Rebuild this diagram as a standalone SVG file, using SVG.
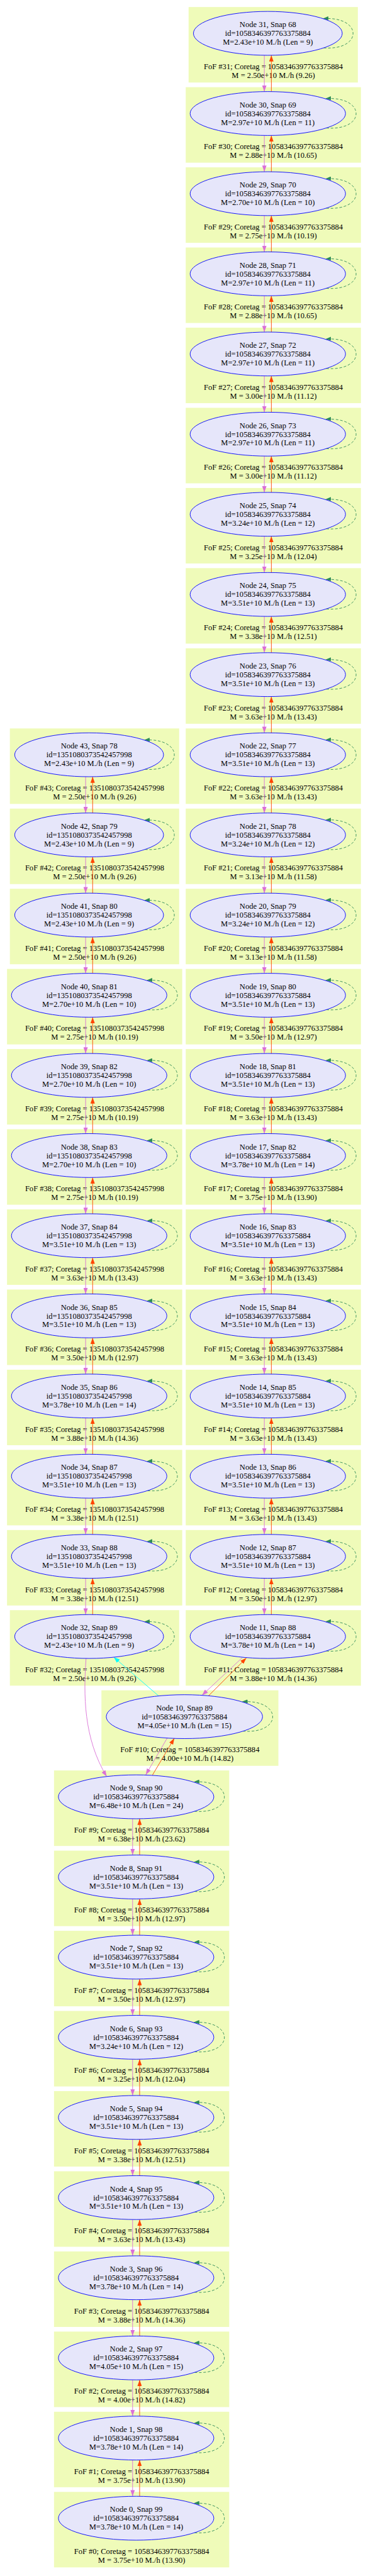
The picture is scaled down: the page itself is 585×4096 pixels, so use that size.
<svg xmlns="http://www.w3.org/2000/svg" width="585" height="4096" viewBox="0 0 585 4096">
<style>
.cl rect{fill:#effbb9}
text{font-family:"Liberation Serif","Times New Roman",serif;font-size:18px;text-anchor:middle;fill:#000}
.nd ellipse{fill:#e6e6fa;stroke:#0000ff;stroke-width:1.3}
.e{fill:none;stroke-width:1.3}
.v{stroke:#da70d6}
.o{stroke:#ff4500}
.c{stroke:#00ffff}
.s{stroke:#2e8b57;stroke-dasharray:6,4}
</style>
<defs>
<marker id="mv" viewBox="0 0 14 10" refX="14" refY="5" markerWidth="14" markerHeight="10" markerUnits="userSpaceOnUse" orient="auto"><path d="M0,0L14,5L0,10z" fill="#da70d6"/></marker>
<marker id="mo" viewBox="0 0 14 10" refX="14" refY="5" markerWidth="14" markerHeight="10" markerUnits="userSpaceOnUse" orient="auto"><path d="M0,0L14,5L0,10z" fill="#ff4500"/></marker>
<marker id="mc" viewBox="0 0 14 10" refX="14" refY="5" markerWidth="14" markerHeight="10" markerUnits="userSpaceOnUse" orient="auto"><path d="M0,0L14,5L0,10z" fill="#00ffff"/></marker>
<marker id="ms" viewBox="0 0 13 9" refX="13" refY="4.5" markerWidth="13" markerHeight="9" markerUnits="userSpaceOnUse" orient="auto"><path d="M0,0L13,4.5L0,9z" fill="#2e8b57"/></marker>
<g id="vp"><path class="e v" d="M-8,50V132.6" marker-end="url(#mv)"/><path class="e o" d="M8,132.6V50" marker-end="url(#mo)"/></g>
<path id="l2" class="e s" d="M133,33C224,40 224,-40 131,-34" marker-end="url(#ms)"/>
<path id="l1" class="e s" d="M127,33C216.7,40 216.7,-40 125,-33.5" marker-end="url(#ms)"/>
</defs>
<g transform="scale(0.698)">
<g id="clusters" class="cl">
<g id="cluster31" transform="translate(610,76)"><rect x="-180.5" y="-60" width="385.5" height="172"/><text x="12.5" y="81.5">FoF #31; Coretag = 1058346397763375884</text><text x="12.5" y="101.5">M = 2.50e+10 M./h (9.26)</text></g>
<g id="cluster30" transform="translate(610,258.6)"><rect x="-187" y="-60" width="399" height="172"/><text x="12.5" y="81.5">FoF #30; Coretag = 1058346397763375884</text><text x="12.5" y="101.5">M = 2.88e+10 M./h (10.65)</text></g>
<g id="cluster29" transform="translate(610,441.2)"><rect x="-187" y="-60" width="399" height="172"/><text x="12.5" y="81.5">FoF #29; Coretag = 1058346397763375884</text><text x="12.5" y="101.5">M = 2.75e+10 M./h (10.19)</text></g>
<g id="cluster28" transform="translate(610,623.8)"><rect x="-187" y="-60" width="399" height="172"/><text x="12.5" y="81.5">FoF #28; Coretag = 1058346397763375884</text><text x="12.5" y="101.5">M = 2.88e+10 M./h (10.65)</text></g>
<g id="cluster27" transform="translate(610,806.4)"><rect x="-187" y="-60" width="399" height="172"/><text x="12.5" y="81.5">FoF #27; Coretag = 1058346397763375884</text><text x="12.5" y="101.5">M = 3.00e+10 M./h (11.12)</text></g>
<g id="cluster26" transform="translate(610,989)"><rect x="-187" y="-60" width="399" height="172"/><text x="12.5" y="81.5">FoF #26; Coretag = 1058346397763375884</text><text x="12.5" y="101.5">M = 3.00e+10 M./h (11.12)</text></g>
<g id="cluster25" transform="translate(610,1171.6)"><rect x="-187" y="-60" width="399" height="172"/><text x="12.5" y="81.5">FoF #25; Coretag = 1058346397763375884</text><text x="12.5" y="101.5">M = 3.25e+10 M./h (12.04)</text></g>
<g id="cluster24" transform="translate(610,1354.2)"><rect x="-187" y="-60" width="399" height="172"/><text x="12.5" y="81.5">FoF #24; Coretag = 1058346397763375884</text><text x="12.5" y="101.5">M = 3.38e+10 M./h (12.51)</text></g>
<g id="cluster23" transform="translate(610,1536.8)"><rect x="-187" y="-60" width="399" height="172"/><text x="12.5" y="81.5">FoF #23; Coretag = 1058346397763375884</text><text x="12.5" y="101.5">M = 3.63e+10 M./h (13.43)</text></g>
<g id="cluster22" transform="translate(610,1719.4)"><rect x="-187" y="-60" width="399" height="172"/><text x="12.5" y="81.5">FoF #22; Coretag = 1058346397763375884</text><text x="12.5" y="101.5">M = 3.63e+10 M./h (13.43)</text></g>
<g id="cluster21" transform="translate(610,1902)"><rect x="-187" y="-60" width="399" height="172"/><text x="12.5" y="81.5">FoF #21; Coretag = 1058346397763375884</text><text x="12.5" y="101.5">M = 3.13e+10 M./h (11.58)</text></g>
<g id="cluster20" transform="translate(610,2084.6)"><rect x="-187" y="-60" width="399" height="172"/><text x="12.5" y="81.5">FoF #20; Coretag = 1058346397763375884</text><text x="12.5" y="101.5">M = 3.13e+10 M./h (11.58)</text></g>
<g id="cluster19" transform="translate(610,2267.2)"><rect x="-187" y="-60" width="399" height="172"/><text x="12.5" y="81.5">FoF #19; Coretag = 1058346397763375884</text><text x="12.5" y="101.5">M = 3.50e+10 M./h (12.97)</text></g>
<g id="cluster18" transform="translate(610,2449.8)"><rect x="-187" y="-60" width="399" height="172"/><text x="12.5" y="81.5">FoF #18; Coretag = 1058346397763375884</text><text x="12.5" y="101.5">M = 3.63e+10 M./h (13.43)</text></g>
<g id="cluster17" transform="translate(610,2632.4)"><rect x="-187" y="-60" width="399" height="172"/><text x="12.5" y="81.5">FoF #17; Coretag = 1058346397763375884</text><text x="12.5" y="101.5">M = 3.75e+10 M./h (13.90)</text></g>
<g id="cluster16" transform="translate(610,2815)"><rect x="-187" y="-60" width="399" height="172"/><text x="12.5" y="81.5">FoF #16; Coretag = 1058346397763375884</text><text x="12.5" y="101.5">M = 3.63e+10 M./h (13.43)</text></g>
<g id="cluster15" transform="translate(610,2997.6)"><rect x="-187" y="-60" width="399" height="172"/><text x="12.5" y="81.5">FoF #15; Coretag = 1058346397763375884</text><text x="12.5" y="101.5">M = 3.63e+10 M./h (13.43)</text></g>
<g id="cluster14" transform="translate(610,3180.2)"><rect x="-187" y="-60" width="399" height="172"/><text x="12.5" y="81.5">FoF #14; Coretag = 1058346397763375884</text><text x="12.5" y="101.5">M = 3.63e+10 M./h (13.43)</text></g>
<g id="cluster13" transform="translate(610,3362.8)"><rect x="-187" y="-60" width="399" height="172"/><text x="12.5" y="81.5">FoF #13; Coretag = 1058346397763375884</text><text x="12.5" y="101.5">M = 3.63e+10 M./h (13.43)</text></g>
<g id="cluster12" transform="translate(610,3545.4)"><rect x="-187" y="-60" width="399" height="172"/><text x="12.5" y="81.5">FoF #12; Coretag = 1058346397763375884</text><text x="12.5" y="101.5">M = 3.50e+10 M./h (12.97)</text></g>
<g id="cluster11" transform="translate(610,3728)"><rect x="-187" y="-60" width="399" height="172"/><text x="12.5" y="81.5">FoF #11; Coretag = 1058346397763375884</text><text x="12.5" y="101.5">M = 3.88e+10 M./h (14.36)</text></g>
<g id="cluster43" transform="translate(203,1719.4)"><rect x="-180.5" y="-60" width="385.5" height="172"/><text x="12.5" y="81.5">FoF #43; Coretag = 1351080373542457998</text><text x="12.5" y="101.5">M = 2.50e+10 M./h (9.26)</text></g>
<g id="cluster42" transform="translate(203,1902)"><rect x="-180.5" y="-60" width="385.5" height="172"/><text x="12.5" y="81.5">FoF #42; Coretag = 1351080373542457998</text><text x="12.5" y="101.5">M = 2.50e+10 M./h (9.26)</text></g>
<g id="cluster41" transform="translate(203,2084.6)"><rect x="-180.5" y="-60" width="385.5" height="172"/><text x="12.5" y="81.5">FoF #41; Coretag = 1351080373542457998</text><text x="12.5" y="101.5">M = 2.50e+10 M./h (9.26)</text></g>
<g id="cluster40" transform="translate(203,2267.2)"><rect x="-187" y="-60" width="399" height="172"/><text x="12.5" y="81.5">FoF #40; Coretag = 1351080373542457998</text><text x="12.5" y="101.5">M = 2.75e+10 M./h (10.19)</text></g>
<g id="cluster39" transform="translate(203,2449.8)"><rect x="-187" y="-60" width="399" height="172"/><text x="12.5" y="81.5">FoF #39; Coretag = 1351080373542457998</text><text x="12.5" y="101.5">M = 2.75e+10 M./h (10.19)</text></g>
<g id="cluster38" transform="translate(203,2632.4)"><rect x="-187" y="-60" width="399" height="172"/><text x="12.5" y="81.5">FoF #38; Coretag = 1351080373542457998</text><text x="12.5" y="101.5">M = 2.75e+10 M./h (10.19)</text></g>
<g id="cluster37" transform="translate(203,2815)"><rect x="-187" y="-60" width="399" height="172"/><text x="12.5" y="81.5">FoF #37; Coretag = 1351080373542457998</text><text x="12.5" y="101.5">M = 3.63e+10 M./h (13.43)</text></g>
<g id="cluster36" transform="translate(203,2997.6)"><rect x="-187" y="-60" width="399" height="172"/><text x="12.5" y="81.5">FoF #36; Coretag = 1351080373542457998</text><text x="12.5" y="101.5">M = 3.50e+10 M./h (12.97)</text></g>
<g id="cluster35" transform="translate(203,3180.2)"><rect x="-187" y="-60" width="399" height="172"/><text x="12.5" y="81.5">FoF #35; Coretag = 1351080373542457998</text><text x="12.5" y="101.5">M = 3.88e+10 M./h (14.36)</text></g>
<g id="cluster34" transform="translate(203,3362.8)"><rect x="-187" y="-60" width="399" height="172"/><text x="12.5" y="81.5">FoF #34; Coretag = 1351080373542457998</text><text x="12.5" y="101.5">M = 3.38e+10 M./h (12.51)</text></g>
<g id="cluster33" transform="translate(203,3545.4)"><rect x="-187" y="-60" width="399" height="172"/><text x="12.5" y="81.5">FoF #33; Coretag = 1351080373542457998</text><text x="12.5" y="101.5">M = 3.38e+10 M./h (12.51)</text></g>
<g id="cluster32" transform="translate(203,3728)"><rect x="-180.5" y="-60" width="385.5" height="172"/><text x="12.5" y="81.5">FoF #32; Coretag = 1351080373542457998</text><text x="12.5" y="101.5">M = 2.50e+10 M./h (9.26)</text></g>
<g id="cluster10" transform="translate(420,3910.6)"><rect x="-189" y="-60" width="403" height="172"/><text x="12.5" y="81.5">FoF #10; Coretag = 1058346397763375884</text><text x="12.5" y="101.5">M = 4.00e+10 M./h (14.82)</text></g>
<g id="cluster9" transform="translate(310,4093.2)"><rect x="-187" y="-60" width="399" height="172"/><text x="12.5" y="81.5">FoF #9; Coretag = 1058346397763375884</text><text x="12.5" y="101.5">M = 6.38e+10 M./h (23.62)</text></g>
<g id="cluster8" transform="translate(310,4275.8)"><rect x="-187" y="-60" width="399" height="172"/><text x="12.5" y="81.5">FoF #8; Coretag = 1058346397763375884</text><text x="12.5" y="101.5">M = 3.50e+10 M./h (12.97)</text></g>
<g id="cluster7" transform="translate(310,4458.4)"><rect x="-187" y="-60" width="399" height="172"/><text x="12.5" y="81.5">FoF #7; Coretag = 1058346397763375884</text><text x="12.5" y="101.5">M = 3.50e+10 M./h (12.97)</text></g>
<g id="cluster6" transform="translate(310,4641)"><rect x="-187" y="-60" width="399" height="172"/><text x="12.5" y="81.5">FoF #6; Coretag = 1058346397763375884</text><text x="12.5" y="101.5">M = 3.25e+10 M./h (12.04)</text></g>
<g id="cluster5" transform="translate(310,4823.6)"><rect x="-187" y="-60" width="399" height="172"/><text x="12.5" y="81.5">FoF #5; Coretag = 1058346397763375884</text><text x="12.5" y="101.5">M = 3.38e+10 M./h (12.51)</text></g>
<g id="cluster4" transform="translate(310,5006.2)"><rect x="-187" y="-60" width="399" height="172"/><text x="12.5" y="81.5">FoF #4; Coretag = 1058346397763375884</text><text x="12.5" y="101.5">M = 3.63e+10 M./h (13.43)</text></g>
<g id="cluster3" transform="translate(310,5188.8)"><rect x="-187" y="-60" width="399" height="172"/><text x="12.5" y="81.5">FoF #3; Coretag = 1058346397763375884</text><text x="12.5" y="101.5">M = 3.88e+10 M./h (14.36)</text></g>
<g id="cluster2" transform="translate(310,5371.4)"><rect x="-187" y="-60" width="399" height="172"/><text x="12.5" y="81.5">FoF #2; Coretag = 1058346397763375884</text><text x="12.5" y="101.5">M = 4.00e+10 M./h (14.82)</text></g>
<g id="cluster1" transform="translate(310,5554)"><rect x="-187" y="-60" width="399" height="172"/><text x="12.5" y="81.5">FoF #1; Coretag = 1058346397763375884</text><text x="12.5" y="101.5">M = 3.75e+10 M./h (13.90)</text></g>
<g id="cluster0" transform="translate(310,5736.6)"><rect x="-187" y="-60" width="399" height="172"/><text x="12.5" y="81.5">FoF #0; Coretag = 1058346397763375884</text><text x="12.5" y="101.5">M = 3.75e+10 M./h (13.90)</text></g>
</g>
<g id="edges">
<use href="#vp" x="610" y="76"/><use href="#vp" x="610" y="258.6"/><use href="#vp" x="610" y="441.2"/><use href="#vp" x="610" y="623.8"/><use href="#vp" x="610" y="806.4"/><use href="#vp" x="610" y="989"/><use href="#vp" x="610" y="1171.6"/><use href="#vp" x="610" y="1354.2"/><use href="#vp" x="610" y="1536.8"/><use href="#vp" x="610" y="1719.4"/><use href="#vp" x="610" y="1902"/><use href="#vp" x="610" y="2084.6"/><use href="#vp" x="610" y="2267.2"/><use href="#vp" x="610" y="2449.8"/><use href="#vp" x="610" y="2632.4"/><use href="#vp" x="610" y="2815"/><use href="#vp" x="610" y="2997.6"/><use href="#vp" x="610" y="3180.2"/><use href="#vp" x="610" y="3362.8"/><use href="#vp" x="610" y="3545.4"/>
<use href="#vp" x="203" y="1719.4"/><use href="#vp" x="203" y="1902"/><use href="#vp" x="203" y="2084.6"/><use href="#vp" x="203" y="2267.2"/><use href="#vp" x="203" y="2449.8"/><use href="#vp" x="203" y="2632.4"/><use href="#vp" x="203" y="2815"/><use href="#vp" x="203" y="2997.6"/><use href="#vp" x="203" y="3180.2"/><use href="#vp" x="203" y="3362.8"/><use href="#vp" x="203" y="3545.4"/>
<use href="#vp" x="310" y="4093.2"/><use href="#vp" x="310" y="4275.8"/><use href="#vp" x="310" y="4458.4"/><use href="#vp" x="310" y="4641"/><use href="#vp" x="310" y="4823.6"/><use href="#vp" x="310" y="5006.2"/><use href="#vp" x="310" y="5188.8"/><use href="#vp" x="310" y="5371.4"/><use href="#vp" x="310" y="5554"/>
<path class="e v" d="M552,3776L460,3862" marker-end="url(#mv)"/>
<path class="e o" d="M475,3863L561,3777" marker-end="url(#mo)"/>
<path class="e c" d="M362,3864L259,3775" marker-end="url(#mc)"/>
<path class="e v" d="M196,3778C190,3860 190,3960 243,4047" marker-end="url(#mv)"/>
<path class="e v" d="M381,3959L332,4043" marker-end="url(#mv)"/>
<path class="e o" d="M347,4044L397,3960" marker-end="url(#mo)"/>
<use href="#l1" x="610" y="76"/><use href="#l2" x="610" y="258.6"/><use href="#l2" x="610" y="441.2"/><use href="#l2" x="610" y="623.8"/><use href="#l2" x="610" y="806.4"/><use href="#l2" x="610" y="989"/><use href="#l2" x="610" y="1171.6"/><use href="#l2" x="610" y="1354.2"/><use href="#l2" x="610" y="1536.8"/><use href="#l2" x="610" y="1719.4"/><use href="#l2" x="610" y="1902"/><use href="#l2" x="610" y="2084.6"/><use href="#l2" x="610" y="2267.2"/><use href="#l2" x="610" y="2449.8"/><use href="#l2" x="610" y="2632.4"/><use href="#l2" x="610" y="2815"/><use href="#l2" x="610" y="2997.6"/><use href="#l2" x="610" y="3180.2"/><use href="#l2" x="610" y="3362.8"/><use href="#l2" x="610" y="3545.4"/><use href="#l2" x="610" y="3728"/>
<use href="#l1" x="203" y="1719.4"/><use href="#l1" x="203" y="1902"/><use href="#l1" x="203" y="2084.6"/><use href="#l2" x="203" y="2267.2"/><use href="#l2" x="203" y="2449.8"/><use href="#l2" x="203" y="2632.4"/><use href="#l2" x="203" y="2815"/><use href="#l2" x="203" y="2997.6"/><use href="#l2" x="203" y="3180.2"/><use href="#l2" x="203" y="3362.8"/><use href="#l2" x="203" y="3545.4"/><use href="#l1" x="203" y="3728"/>
<use href="#l2" x="420" y="3910.6"/><use href="#l2" x="310" y="4093.2"/><use href="#l2" x="310" y="4275.8"/><use href="#l2" x="310" y="4458.4"/><use href="#l2" x="310" y="4641"/><use href="#l2" x="310" y="4823.6"/><use href="#l2" x="310" y="5006.2"/><use href="#l2" x="310" y="5188.8"/><use href="#l2" x="310" y="5371.4"/><use href="#l2" x="310" y="5554"/><use href="#l2" x="310" y="5736.6"/>
</g>
<g id="nodes" class="nd">
<g id="node31" transform="translate(610,76)"><ellipse rx="169.5" ry="50"/><text y="-14">Node 31, Snap 68</text><text y="6">id=1058346397763375884</text><text y="26">M=2.43e+10 M./h (Len = 9)</text></g>
<g id="node30" transform="translate(610,258.6)"><ellipse rx="177" ry="50"/><text y="-14">Node 30, Snap 69</text><text y="6">id=1058346397763375884</text><text y="26">M=2.97e+10 M./h (Len = 11)</text></g>
<g id="node29" transform="translate(610,441.2)"><ellipse rx="177" ry="50"/><text y="-14">Node 29, Snap 70</text><text y="6">id=1058346397763375884</text><text y="26">M=2.70e+10 M./h (Len = 10)</text></g>
<g id="node28" transform="translate(610,623.8)"><ellipse rx="177" ry="50"/><text y="-14">Node 28, Snap 71</text><text y="6">id=1058346397763375884</text><text y="26">M=2.97e+10 M./h (Len = 11)</text></g>
<g id="node27" transform="translate(610,806.4)"><ellipse rx="177" ry="50"/><text y="-14">Node 27, Snap 72</text><text y="6">id=1058346397763375884</text><text y="26">M=2.97e+10 M./h (Len = 11)</text></g>
<g id="node26" transform="translate(610,989)"><ellipse rx="177" ry="50"/><text y="-14">Node 26, Snap 73</text><text y="6">id=1058346397763375884</text><text y="26">M=2.97e+10 M./h (Len = 11)</text></g>
<g id="node25" transform="translate(610,1171.6)"><ellipse rx="177" ry="50"/><text y="-14">Node 25, Snap 74</text><text y="6">id=1058346397763375884</text><text y="26">M=3.24e+10 M./h (Len = 12)</text></g>
<g id="node24" transform="translate(610,1354.2)"><ellipse rx="177" ry="50"/><text y="-14">Node 24, Snap 75</text><text y="6">id=1058346397763375884</text><text y="26">M=3.51e+10 M./h (Len = 13)</text></g>
<g id="node23" transform="translate(610,1536.8)"><ellipse rx="177" ry="50"/><text y="-14">Node 23, Snap 76</text><text y="6">id=1058346397763375884</text><text y="26">M=3.51e+10 M./h (Len = 13)</text></g>
<g id="node22" transform="translate(610,1719.4)"><ellipse rx="177" ry="50"/><text y="-14">Node 22, Snap 77</text><text y="6">id=1058346397763375884</text><text y="26">M=3.51e+10 M./h (Len = 13)</text></g>
<g id="node21" transform="translate(610,1902)"><ellipse rx="177" ry="50"/><text y="-14">Node 21, Snap 78</text><text y="6">id=1058346397763375884</text><text y="26">M=3.24e+10 M./h (Len = 12)</text></g>
<g id="node20" transform="translate(610,2084.6)"><ellipse rx="177" ry="50"/><text y="-14">Node 20, Snap 79</text><text y="6">id=1058346397763375884</text><text y="26">M=3.24e+10 M./h (Len = 12)</text></g>
<g id="node19" transform="translate(610,2267.2)"><ellipse rx="177" ry="50"/><text y="-14">Node 19, Snap 80</text><text y="6">id=1058346397763375884</text><text y="26">M=3.51e+10 M./h (Len = 13)</text></g>
<g id="node18" transform="translate(610,2449.8)"><ellipse rx="177" ry="50"/><text y="-14">Node 18, Snap 81</text><text y="6">id=1058346397763375884</text><text y="26">M=3.51e+10 M./h (Len = 13)</text></g>
<g id="node17" transform="translate(610,2632.4)"><ellipse rx="177" ry="50"/><text y="-14">Node 17, Snap 82</text><text y="6">id=1058346397763375884</text><text y="26">M=3.78e+10 M./h (Len = 14)</text></g>
<g id="node16" transform="translate(610,2815)"><ellipse rx="177" ry="50"/><text y="-14">Node 16, Snap 83</text><text y="6">id=1058346397763375884</text><text y="26">M=3.51e+10 M./h (Len = 13)</text></g>
<g id="node15" transform="translate(610,2997.6)"><ellipse rx="177" ry="50"/><text y="-14">Node 15, Snap 84</text><text y="6">id=1058346397763375884</text><text y="26">M=3.51e+10 M./h (Len = 13)</text></g>
<g id="node14" transform="translate(610,3180.2)"><ellipse rx="177" ry="50"/><text y="-14">Node 14, Snap 85</text><text y="6">id=1058346397763375884</text><text y="26">M=3.51e+10 M./h (Len = 13)</text></g>
<g id="node13" transform="translate(610,3362.8)"><ellipse rx="177" ry="50"/><text y="-14">Node 13, Snap 86</text><text y="6">id=1058346397763375884</text><text y="26">M=3.51e+10 M./h (Len = 13)</text></g>
<g id="node12" transform="translate(610,3545.4)"><ellipse rx="177" ry="50"/><text y="-14">Node 12, Snap 87</text><text y="6">id=1058346397763375884</text><text y="26">M=3.51e+10 M./h (Len = 13)</text></g>
<g id="node11" transform="translate(610,3728)"><ellipse rx="177" ry="50"/><text y="-14">Node 11, Snap 88</text><text y="6">id=1058346397763375884</text><text y="26">M=3.78e+10 M./h (Len = 14)</text></g>
<g id="node43" transform="translate(203,1719.4)"><ellipse rx="169.5" ry="50"/><text y="-14">Node 43, Snap 78</text><text y="6">id=1351080373542457998</text><text y="26">M=2.43e+10 M./h (Len = 9)</text></g>
<g id="node42" transform="translate(203,1902)"><ellipse rx="169.5" ry="50"/><text y="-14">Node 42, Snap 79</text><text y="6">id=1351080373542457998</text><text y="26">M=2.43e+10 M./h (Len = 9)</text></g>
<g id="node41" transform="translate(203,2084.6)"><ellipse rx="169.5" ry="50"/><text y="-14">Node 41, Snap 80</text><text y="6">id=1351080373542457998</text><text y="26">M=2.43e+10 M./h (Len = 9)</text></g>
<g id="node40" transform="translate(203,2267.2)"><ellipse rx="177" ry="50"/><text y="-14">Node 40, Snap 81</text><text y="6">id=1351080373542457998</text><text y="26">M=2.70e+10 M./h (Len = 10)</text></g>
<g id="node39" transform="translate(203,2449.8)"><ellipse rx="177" ry="50"/><text y="-14">Node 39, Snap 82</text><text y="6">id=1351080373542457998</text><text y="26">M=2.70e+10 M./h (Len = 10)</text></g>
<g id="node38" transform="translate(203,2632.4)"><ellipse rx="177" ry="50"/><text y="-14">Node 38, Snap 83</text><text y="6">id=1351080373542457998</text><text y="26">M=2.70e+10 M./h (Len = 10)</text></g>
<g id="node37" transform="translate(203,2815)"><ellipse rx="177" ry="50"/><text y="-14">Node 37, Snap 84</text><text y="6">id=1351080373542457998</text><text y="26">M=3.51e+10 M./h (Len = 13)</text></g>
<g id="node36" transform="translate(203,2997.6)"><ellipse rx="177" ry="50"/><text y="-14">Node 36, Snap 85</text><text y="6">id=1351080373542457998</text><text y="26">M=3.51e+10 M./h (Len = 13)</text></g>
<g id="node35" transform="translate(203,3180.2)"><ellipse rx="177" ry="50"/><text y="-14">Node 35, Snap 86</text><text y="6">id=1351080373542457998</text><text y="26">M=3.78e+10 M./h (Len = 14)</text></g>
<g id="node34" transform="translate(203,3362.8)"><ellipse rx="177" ry="50"/><text y="-14">Node 34, Snap 87</text><text y="6">id=1351080373542457998</text><text y="26">M=3.51e+10 M./h (Len = 13)</text></g>
<g id="node33" transform="translate(203,3545.4)"><ellipse rx="177" ry="50"/><text y="-14">Node 33, Snap 88</text><text y="6">id=1351080373542457998</text><text y="26">M=3.51e+10 M./h (Len = 13)</text></g>
<g id="node32" transform="translate(203,3728)"><ellipse rx="169.5" ry="50"/><text y="-14">Node 32, Snap 89</text><text y="6">id=1351080373542457998</text><text y="26">M=2.43e+10 M./h (Len = 9)</text></g>
<g id="node10" transform="translate(420,3910.6)"><ellipse rx="178" ry="50"/><text y="-14">Node 10, Snap 89</text><text y="6">id=1058346397763375884</text><text y="26">M=4.05e+10 M./h (Len = 15)</text></g>
<g id="node9" transform="translate(310,4093.2)"><ellipse rx="177" ry="50"/><text y="-14">Node 9, Snap 90</text><text y="6">id=1058346397763375884</text><text y="26">M=6.48e+10 M./h (Len = 24)</text></g>
<g id="node8" transform="translate(310,4275.8)"><ellipse rx="177" ry="50"/><text y="-14">Node 8, Snap 91</text><text y="6">id=1058346397763375884</text><text y="26">M=3.51e+10 M./h (Len = 13)</text></g>
<g id="node7" transform="translate(310,4458.4)"><ellipse rx="177" ry="50"/><text y="-14">Node 7, Snap 92</text><text y="6">id=1058346397763375884</text><text y="26">M=3.51e+10 M./h (Len = 13)</text></g>
<g id="node6" transform="translate(310,4641)"><ellipse rx="177" ry="50"/><text y="-14">Node 6, Snap 93</text><text y="6">id=1058346397763375884</text><text y="26">M=3.24e+10 M./h (Len = 12)</text></g>
<g id="node5" transform="translate(310,4823.6)"><ellipse rx="177" ry="50"/><text y="-14">Node 5, Snap 94</text><text y="6">id=1058346397763375884</text><text y="26">M=3.51e+10 M./h (Len = 13)</text></g>
<g id="node4" transform="translate(310,5006.2)"><ellipse rx="177" ry="50"/><text y="-14">Node 4, Snap 95</text><text y="6">id=1058346397763375884</text><text y="26">M=3.51e+10 M./h (Len = 13)</text></g>
<g id="node3" transform="translate(310,5188.8)"><ellipse rx="177" ry="50"/><text y="-14">Node 3, Snap 96</text><text y="6">id=1058346397763375884</text><text y="26">M=3.78e+10 M./h (Len = 14)</text></g>
<g id="node2" transform="translate(310,5371.4)"><ellipse rx="177" ry="50"/><text y="-14">Node 2, Snap 97</text><text y="6">id=1058346397763375884</text><text y="26">M=4.05e+10 M./h (Len = 15)</text></g>
<g id="node1" transform="translate(310,5554)"><ellipse rx="177" ry="50"/><text y="-14">Node 1, Snap 98</text><text y="6">id=1058346397763375884</text><text y="26">M=3.78e+10 M./h (Len = 14)</text></g>
<g id="node0" transform="translate(310,5736.6)"><ellipse rx="177" ry="50"/><text y="-14">Node 0, Snap 99</text><text y="6">id=1058346397763375884</text><text y="26">M=3.78e+10 M./h (Len = 14)</text></g>
</g>
</g>
</svg>
